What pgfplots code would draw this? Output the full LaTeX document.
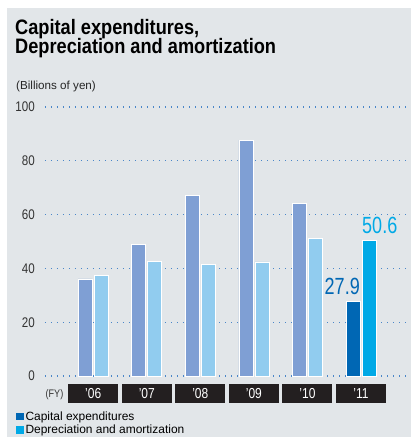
\documentclass[border=0pt]{standalone}
\usepackage{pgfplots}
\pgfplotsset{compat=1.18}
\usepackage{fontspec}
\setmainfont{Liberation Sans}
\newfontfamily\cond{Liberation Sans}[FakeStretch=0.83]
\newfontfamily\condt{Liberation Sans}[FakeStretch=0.87]
\newfontfamily\condd{Liberation Sans}[FakeStretch=0.77]
\definecolor{bg}{HTML}{E2E6E9}
\definecolor{capold}{HTML}{7F9FD4}
\definecolor{depold}{HTML}{91CCEF}
\definecolor{capnew}{HTML}{0067B4}
\definecolor{depnew}{HTML}{00A9E6}
\definecolor{gridc}{HTML}{4A86C8}
\definecolor{boxc}{HTML}{231F20}
\begin{document}
\begin{tikzpicture}
\path[use as bounding box] (-45bp,-61bp) rectangle (368bp,376bp);
\fill[white] (-45bp,-61bp) rectangle (368bp,376bp);
\fill[bg] (-38bp,-61bp) rectangle (366bp,368bp);
\node[anchor=base west,inner sep=0,font=\condt\fontsize{21}{21}\selectfont\bfseries] at (-30bp,341bp) {Capital expenditures,};
\node[anchor=base west,inner sep=0,font=\condt\fontsize{21}{21}\selectfont\bfseries] at (-30bp,322bp) {Depreciation and amortization};
\node[anchor=base west,inner sep=0,font=\fontsize{11.7}{11.7}\selectfont,text=black!85] at (-29bp,286.5bp) {(Billions of yen)};
\node[anchor=center,inner sep=0,font=\cond\fontsize{11}{11}\selectfont,text=black!80] at (9.5bp,-19bp) {(FY)};
\begin{axis}[
  at={(0bp,0bp)}, anchor=south west,
  scale only axis, width=361bp, height=269bp,
  xmin=-0.9, xmax=5.84, ymin=0, ymax=100,
  axis line style={draw=none},
  major tick length=0,
  ytick={0,20,40,60,80,100},
  ymajorgrids,
  grid style={gridc, line width=1.1bp, dash pattern=on 1.1bp off 4.9bp},
  yticklabel style={font=\cond\fontsize{14}{14}\selectfont, anchor=east, inner sep=0pt, xshift=-10bp, text=black!80},
  /pgf/number format/assume math mode=true,
  xtick={0,1,2,3,4,5},
  xticklabels={’06,’07,’08,’09,’10,’11},
  xticklabel style={font=\cond\fontsize{14.5}{14.5}\selectfont, text=white, fill=boxc, inner sep=0,
    minimum width=50bp, minimum height=19bp, text height=10.4bp, text depth=0bp,
    anchor=north, yshift=-8bp},
  ybar, bar width=14bp,
  legend style={at={(axis description cs:-0.080,-0.124)}, anchor=north west, draw=none, fill=none,
    font=\fontsize{12}{12}\selectfont, row sep=-1bp, inner sep=0pt, cells={anchor=west}},
  legend cell align=left,
  clip=false,
]
\addplot[fill=capold, draw=white, line width=0.7bp, bar shift=-8bp, forget plot] coordinates {(0,36.1) (1,49.0) (2,67.0) (3,87.7) (4,64.3)};
\addplot[fill=depold, draw=white, line width=0.7bp, bar shift=8bp, forget plot] coordinates {(0,37.5) (1,42.7) (2,41.6) (3,42.4) (4,51.0)};
\addplot[fill=capnew, draw=white, line width=0.7bp, bar shift=-8bp,
  legend image code/.code={\fill[capnew] (0bp,-3.2bp) rectangle (6.5bp,3.3bp);}] coordinates {(5,27.9)};
\addlegendentry{Capital expenditures}
\addplot[fill=depnew, draw=white, line width=0.7bp, bar shift=8bp,
  legend image code/.code={\fill[depnew] (0bp,-3.2bp) rectangle (6.5bp,3.3bp);}] coordinates {(5,50.6)};
\addlegendentry{Depreciation and amortization}
\node[anchor=south east, inner sep=0, text=capnew, font=\condd\fontsize{23.5}{23.5}\selectfont] at ([xshift=-1bp,yshift=6bp]axis cs:5,27.9) {27.9};
\node[anchor=south west, inner sep=0, text=depnew, font=\condd\fontsize{23.5}{23.5}\selectfont] at ([xshift=1bp,yshift=6bp]axis cs:5,50.6) {50.6};
\end{axis}
\end{tikzpicture}
\end{document}
